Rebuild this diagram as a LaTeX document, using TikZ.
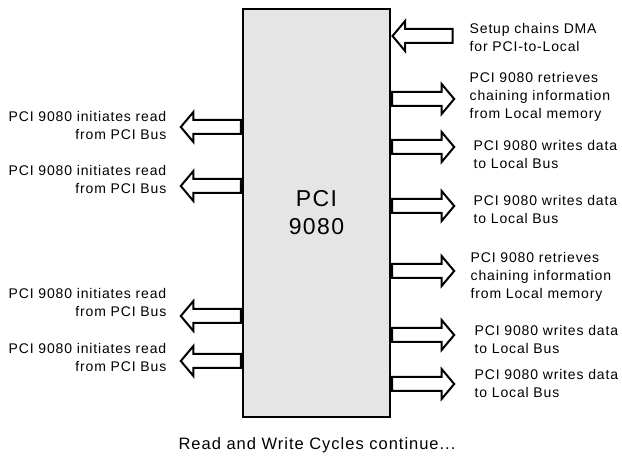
\documentclass[tikz,border=0pt]{standalone}
\usepackage{fontspec}
\setmainfont{Liberation Sans}[LetterSpace=6]
\usetikzlibrary{positioning,shapes.arrows}

\begin{document}
\begin{tikzpicture}[x=1pt, y=-1pt,
  chip/.style={draw, line width=2.4pt, fill=black!10, minimum width=147pt,
               minimum height=408pt, inner sep=0pt, align=center,
               font=\fontsize{23}{28}\selectfont},
  blk/.style={single arrow, draw, line width=2pt, fill=white, inner xsep=0pt,
              inner ysep=6pt, minimum height=60pt, minimum width=0pt,
              single arrow head extend=8pt, single arrow tip angle=100},
  lblL/.style={inner sep=0pt, align=right, font=\fontsize{14}{18}\selectfont},
  lblR/.style={inner sep=0pt, align=left, font=\fontsize{14}{18}\selectfont}
]
\useasboundingbox (0,0) rectangle (622,457);
\node[chip] (pci) at (316.5,213) {PCI\\9080};

% reads towards the PCI side
\node[blk, shape border rotate=180, anchor=tail] (rd1) at (pci.west |- 0,127) {};
\node[blk, shape border rotate=180, anchor=tail] (rd2) at (pci.west |- 0,186) {};
\node[blk, shape border rotate=180, anchor=tail] (rd3) at (pci.west |- 0,316) {};
\node[blk, shape border rotate=180, anchor=tail] (rd4) at (pci.west |- 0,361) {};
\node[lblL, left=13pt of rd1, yshift=2pt] (trd1) {PCI 9080 initiates read\\from PCI Bus};
\node[lblL, left=13pt of rd2, yshift=7pt] (trd2) {PCI 9080 initiates read\\from PCI Bus};
\node[lblL, left=13pt of rd3, yshift=14pt] (trd3) {PCI 9080 initiates read\\from PCI Bus};
\node[lblL, left=13pt of rd4, yshift=4pt] (trd4) {PCI 9080 initiates read\\from PCI Bus};

% setup and local side
\node[blk, shape border rotate=180, anchor=tip] (dma) at (pci.east |- 0,36) {};
\node[blk, anchor=tail, minimum height=62pt] (ch1) at (pci.east |- 0,99) {};
\node[blk, anchor=tail, minimum height=62pt] (wr1) at (pci.east |- 0,147) {};
\node[blk, anchor=tail, minimum height=62pt] (wr2) at (pci.east |- 0,206) {};
\node[blk, anchor=tail, minimum height=62pt] (ch2) at (pci.east |- 0,271) {};
\node[blk, anchor=tail, minimum height=62pt] (wr3) at (pci.east |- 0,335) {};
\node[blk, anchor=tail, minimum height=62pt] (wr4) at (pci.east |- 0,384) {};
\node[lblR, right=16pt of dma, yshift=-1pt] (tdma) {Setup chains DMA\\for PCI-to-Local};
\node[lblR, right=14pt of ch1, yshift=2pt] (tch1) {PCI 9080 retrieves\\chaining information\\from Local memory};
\node[lblR, right=18pt of wr1, yshift=-7pt] (twr1) {PCI 9080 writes data\\to Local Bus};
\node[lblR, right=18pt of wr2, yshift=-3pt] (twr2) {PCI 9080 writes data\\to Local Bus};
\node[lblR, right=15pt of ch2, yshift=-6pt] (tch2) {PCI 9080 retrieves\\chaining information\\from Local memory};
\node[lblR, right=19pt of wr3, yshift=-4pt] (twr3) {PCI 9080 writes data\\to Local Bus};
\node[lblR, right=19pt of wr4, yshift=1pt] (twr4) {PCI 9080 writes data\\to Local Bus};

\node[inner sep=0pt, font=\fontsize{16.5}{20}\selectfont] (more) at (317,445) {Read and Write Cycles continue...};
\end{tikzpicture}
\end{document}
